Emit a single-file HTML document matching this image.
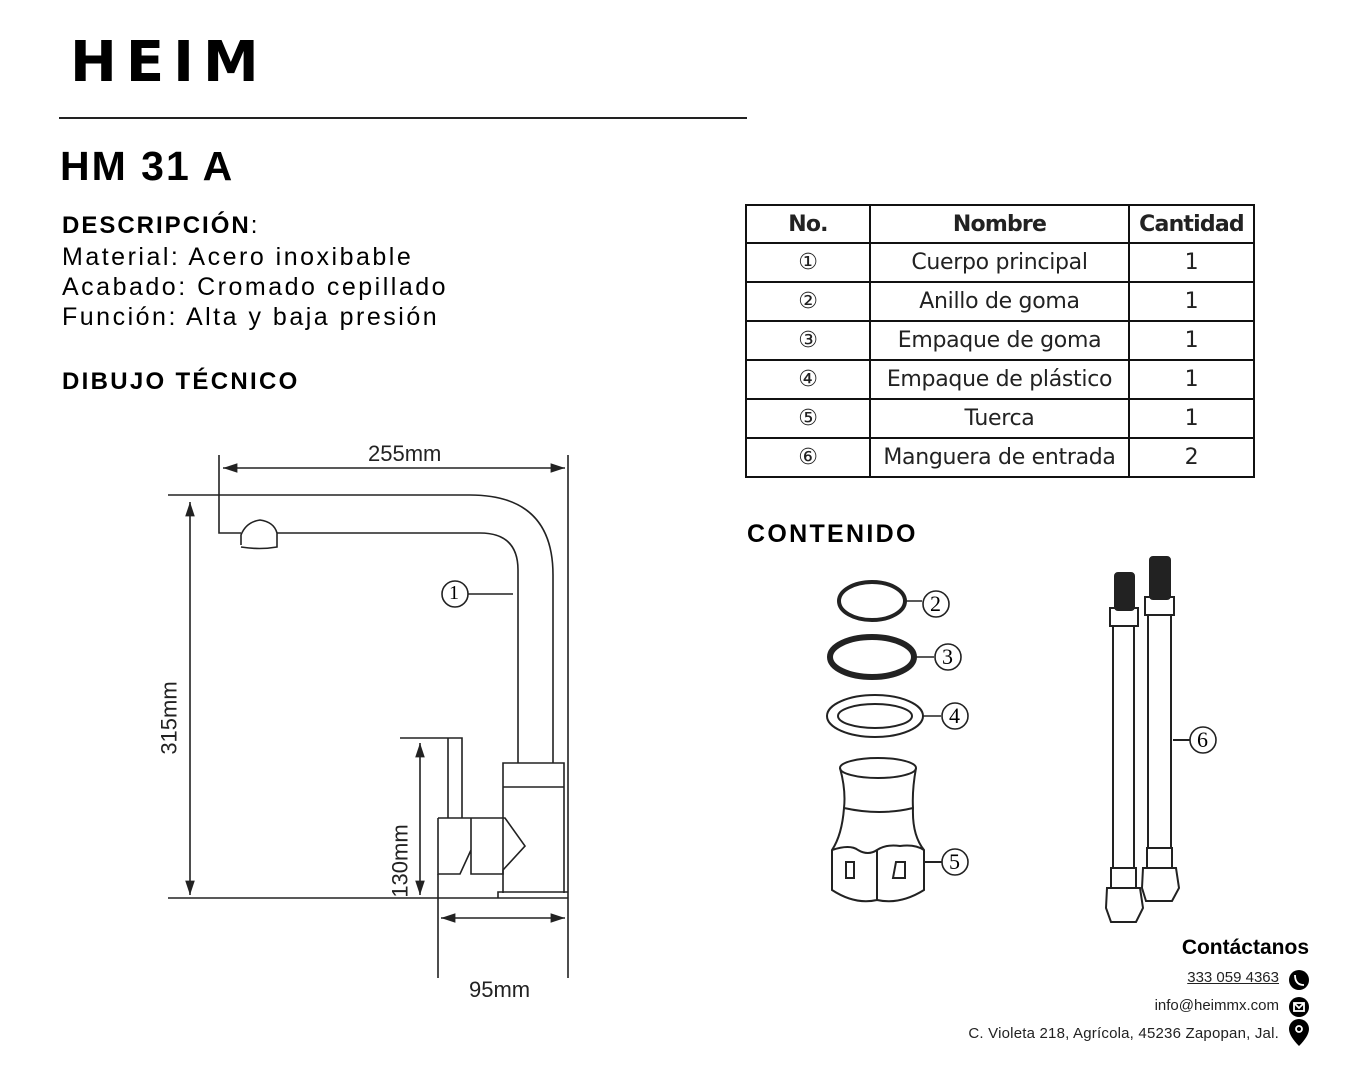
<!DOCTYPE html>
<html><head><meta charset="utf-8"><style>
body{margin:0;width:1350px;height:1080px;background:#fff;position:relative;overflow:hidden;font-family:"Liberation Sans",sans-serif;color:#000}
.a{position:absolute;white-space:nowrap}
table{position:absolute;left:745px;top:204px;border-collapse:collapse;table-layout:fixed;width:508px;font-family:"DejaVu Sans","Liberation Sans",sans-serif}
td{border:2.5px solid #111;text-align:center;font-size:22px;height:37px;padding:0;line-height:34px;color:#222;overflow:hidden;letter-spacing:-0.3px}
th{border:2.5px solid #111;font-size:22px;height:36px;padding:0;font-weight:bold;color:#222;letter-spacing:-0.8px;overflow:hidden}
</style></head><body>
<div class="a" style="left:70px;top:30px;font-size:56px;font-weight:900;letter-spacing:9px;font-family:'DejaVu Sans',sans-serif">HEIM</div>
<div class="a" style="left:59px;top:117px;width:688px;height:1.5px;background:#222"></div>
<div class="a" style="left:60px;top:143px;font-size:41px;font-weight:bold;letter-spacing:2px">HM 31 A</div>
<div class="a" style="left:62px;top:212px;font-size:24px;font-weight:bold;letter-spacing:2px">DESCRIPCIÓN<span style="font-weight:normal">:</span></div>
<div class="a" style="left:62px;top:242px;font-size:25px;letter-spacing:2.5px;line-height:30px">Material: Acero inoxibable<br>Acabado: Cromado cepillado<br>Función: Alta y baja presión</div>
<div class="a" style="left:62px;top:368px;font-size:24px;font-weight:bold;letter-spacing:2.3px">DIBUJO TÉCNICO</div>
<div class="a" style="left:747px;top:520px;font-size:25px;font-weight:bold;letter-spacing:2.3px">CONTENIDO</div>
<table>
<colgroup><col style="width:124px"><col style="width:259px"><col style="width:125px"></colgroup>
<tr><th>No.</th><th>Nombre</th><th>Cantidad</th></tr>
<tr><td>①</td><td>Cuerpo principal</td><td>1</td></tr>
<tr><td>②</td><td>Anillo de goma</td><td>1</td></tr>
<tr><td>③</td><td>Empaque de goma</td><td>1</td></tr>
<tr><td>④</td><td>Empaque de plástico</td><td>1</td></tr>
<tr><td>⑤</td><td>Tuerca</td><td>1</td></tr>
<tr><td>⑥</td><td>Manguera de entrada</td><td>2</td></tr>
</table>
<svg class="a" style="left:0;top:0" width="1350" height="1080" fill="none" stroke="#222" stroke-width="1.6">
<defs><marker id="ar" markerWidth="10" markerHeight="8" refX="9" refY="4" orient="auto-start-reverse"><path d="M0,1L9,4L0,7z" fill="#222" stroke="none"/></marker></defs>
<path d="M168,495H470Q553,495 553,575V763"/>
<path d="M219,455V533H241M277,533H480Q518,533 518,570V763"/>
<path d="M241,545V535Q246,522 260,520Q274,522 277,533V547Q260,550 241,547"/>
<line x1="223" y1="468" x2="565" y2="468" marker-start="url(#ar)" marker-end="url(#ar)"/>
<line x1="568" y1="455" x2="568" y2="978"/>
<line x1="190" y1="502" x2="190" y2="895" marker-start="url(#ar)" marker-end="url(#ar)"/>
<line x1="168" y1="898" x2="568" y2="898"/>
<path d="M503,893V763H564V893M503,787H564M498,898V892H568"/>
<path d="M400,738H462V818M448,738V818"/>
<path d="M438,818H471M438,818V874H460L471,850M471,818V874H503V870L525,846L505,818Z"/>
<line x1="420" y1="743" x2="420" y2="895" marker-start="url(#ar)" marker-end="url(#ar)"/>
<line x1="438" y1="874" x2="438" y2="978"/>
<line x1="441" y1="918" x2="565" y2="918" marker-start="url(#ar)" marker-end="url(#ar)"/>
<circle cx="455" cy="594" r="13"/><line x1="468" y1="594" x2="513" y2="594"/>
<ellipse cx="872" cy="601" rx="33" ry="19" stroke-width="4"/>
<line x1="905" y1="601" x2="922" y2="601"/><circle cx="936" cy="604" r="13"/>
<ellipse cx="872" cy="657" rx="42" ry="20" stroke-width="6"/>
<line x1="915" y1="657" x2="934" y2="657"/><circle cx="948" cy="657" r="13"/>
<ellipse cx="875" cy="716" rx="48" ry="21" stroke-width="2"/><ellipse cx="875" cy="716" rx="37" ry="12" stroke-width="2"/>
<line x1="923" y1="716" x2="941" y2="716"/><circle cx="955" cy="716" r="13"/>
<g stroke-width="2">
<ellipse cx="878" cy="768" rx="38" ry="10"/>
<path d="M840,768Q846,790 844,808Q880,816 913,808Q912,790 916,768M844,808Q842,835 832,850V890Q855,905 877,900Q900,905 924,890V850Q912,835 913,808M832,850Q850,844 858,850Q868,856 877,850Q886,844 900,846Q915,844 924,850M877,850V900"/>
<path d="M846,862h8v16h-8zM896,862h9v16h-12z"/>
<line x1="924" y1="862" x2="942" y2="862"/></g><circle cx="955" cy="862" r="13"/>
<g stroke-width="2">
<rect x="1115" y="573" width="19" height="37" rx="3" fill="#222"/>
<rect x="1110" y="608" width="28" height="18"/>
<path d="M1113,626V868M1134,626V868"/>
<rect x="1111" y="868" width="25" height="20"/>
<path d="M1107,888H1140L1143,908L1136,922H1111L1106,908Z"/>
<rect x="1150" y="557" width="20" height="42" rx="3" fill="#222"/>
<rect x="1145" y="597" width="29" height="18"/>
<path d="M1148,615V848M1171,615V848"/>
<rect x="1147" y="848" width="25" height="20"/>
<path d="M1143,868H1176L1179,888L1172,901H1146L1142,888Z"/>
<line x1="1173" y1="740" x2="1190" y2="740"/></g><circle cx="1203" cy="740" r="13"/>
<g fill="#000" stroke="none"><circle cx="1299" cy="980" r="10"/><circle cx="1299" cy="1007" r="10"/><path d="M1299,1046C1293,1040 1289,1034 1289,1029A10,10 0 0 1 1309,1029C1309,1034 1305,1040 1299,1046Z"/></g>
<g stroke="#fff" stroke-width="1.8"><path d="M1295,975Q1295,985 1304,985"/><rect x="1294" y="1003" width="10" height="8"/><path d="M1294,1003L1299,1008L1304,1003"/><circle cx="1299" cy="1029" r="3"/></g>
</svg>
<div class="a" style="left:449px;top:582px;font-size:20px;font-family:'Liberation Serif',serif">1</div>
<div class="a" style="left:930px;top:591px;font-size:22px;font-family:'Liberation Serif',serif">2</div>
<div class="a" style="left:942px;top:644px;font-size:22px;font-family:'Liberation Serif',serif">3</div>
<div class="a" style="left:949px;top:703px;font-size:22px;font-family:'Liberation Serif',serif">4</div>
<div class="a" style="left:949px;top:849px;font-size:22px;font-family:'Liberation Serif',serif">5</div>
<div class="a" style="left:1197px;top:727px;font-size:22px;font-family:'Liberation Serif',serif">6</div>
<div class="a" style="left:368px;top:441px;font-size:22px;color:#222">255mm</div>
<div class="a" style="left:469px;top:977px;font-size:22px;color:#222">95mm</div>
<div class="a" style="left:133px;top:705px;font-size:22px;color:#222;transform:rotate(-90deg)">315mm</div>
<div class="a" style="left:364px;top:848px;font-size:22px;color:#222;transform:rotate(-90deg)">130mm</div>
<div class="a" style="right:41px;top:936px;font-size:21px;font-weight:bold">Contáctanos</div>
<div class="a" style="right:71px;top:969px;font-size:15px;text-decoration:underline;color:#222">333 059 4363</div>
<div class="a" style="right:71px;top:997px;font-size:15px;color:#222">info@heimmx.com</div>
<div class="a" style="right:71px;top:1025px;font-size:15px;color:#222;letter-spacing:0.2px">C. Violeta 218, Agrícola, 45236 Zapopan, Jal.</div>
</body></html>
